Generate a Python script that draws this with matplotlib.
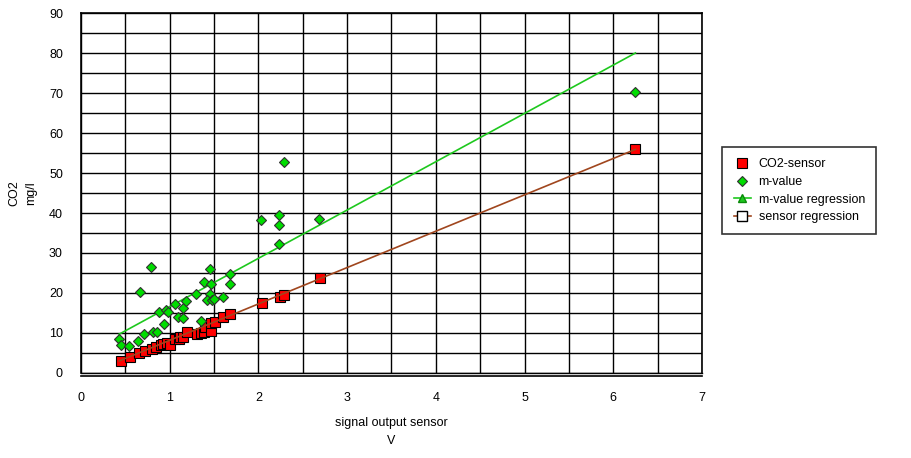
import matplotlib
matplotlib.use("Agg")
import matplotlib.pyplot as plt
from matplotlib.lines import Line2D

plt.rcParams['font.family'] = ['Liberation Sans', 'DejaVu Sans']

# CO2-sensor points (signal V, CO2 mg/l)
sensor_x = [0.45, 0.55, 0.65, 0.72, 0.80, 0.85, 0.90, 0.93, 0.97, 1.00,
            1.06, 1.10, 1.12, 1.15, 1.19, 1.31, 1.35, 1.39, 1.40, 1.46,
            1.47, 1.51, 1.60, 1.68, 2.04, 2.24, 2.29, 2.69, 6.25]
sensor_y = [3.0, 4.1, 4.9, 5.5, 6.1, 6.6, 6.9, 7.2, 7.4, 7.0,
            8.6, 8.5, 8.9, 9.1, 10.2, 9.7, 10.0, 10.3, 11.4, 10.6,
            12.5, 12.8, 14.0, 14.8, 17.6, 18.9, 19.5, 23.7, 56.1]

# m-value points
mval_x = [0.43, 0.45, 0.545, 0.64, 0.67, 0.71, 0.79, 0.815, 0.86, 0.88,
          0.94, 0.96, 0.985, 1.06, 1.09, 1.145, 1.155, 1.18, 1.30, 1.355,
          1.385, 1.45, 1.46, 1.45, 1.42, 1.48, 1.50, 1.60, 1.68, 1.68,
          2.03, 2.23, 2.23, 2.235, 2.29, 2.68, 6.25]
mval_y = [8.4, 7.1, 6.7, 8.1, 20.2, 9.75, 26.6, 10.2, 10.2, 15.3,
          12.3, 15.8, 15.3, 17.2, 14.1, 16.3, 13.8, 18.1, 19.7, 12.9,
          22.7, 26.0, 22.2, 19.7, 18.3, 18.3, 18.6, 18.9, 24.8, 22.3,
          38.2, 39.4, 36.9, 32.2, 52.8, 38.5, 70.2]

# regression lines, end points
reg_x = [0.43, 6.25]
mval_reg_y = [9.7, 80.0]
sensor_reg_y = [3.0, 55.9]

fig = plt.figure(figsize=(9.12, 4.58), dpi=100)
ax = fig.add_axes([0.0888, 0.1856, 0.6809, 0.786])

ax.plot(sensor_x, sensor_y, 's', color='#FF0000', mec='black', mew=0.8, ms=7.5, zorder=3)
ax.plot(reg_x, sensor_reg_y, '-', color='#A0461E', lw=1.2, zorder=4)
ax.plot(reg_x, mval_reg_y, '-', color='#1EC81E', lw=1.2, zorder=4)
ax.plot(mval_x, mval_y, 'D', color='#00DD00', mec='#303030', mew=0.8, ms=5, zorder=5)

ax.set_xlim(0, 7)
ax.set_ylim(0, 90)
ax.set_xticks(range(0, 8))
ax.set_yticks(range(0, 91, 10))
ax.set_xticks([i * 0.5 for i in range(15)], minor=True)
ax.set_yticks(range(0, 91, 5), minor=True)
ax.grid(True, which='both', color='black', lw=1)
ax.set_axisbelow(True)
ax.tick_params(which='both', length=0)
ax.tick_params(axis='x', pad=12, labelsize=9)
ax.tick_params(axis='y', pad=13, labelsize=9)
for s in ax.spines.values():
    s.set_linewidth(1.2)
ax.spines['bottom'].set_position(('outward', 2))
ax.axhline(0, color='black', lw=1, clip_on=False)

ax.set_xlabel('signal output sensor\nV', fontsize=9, labelpad=9, linespacing=1.7)
ax.set_ylabel('CO2\nmg/l', fontsize=9, linespacing=1.5)
ax.yaxis.set_label_coords(-0.071, 0.5)

handles = [
    Line2D([], [], ls='none', marker='s', color='#FF0000', mec='black', mew=0.8, ms=7),
    Line2D([], [], ls='none', marker='D', color='#00DD00', mec='#303030', mew=0.8, ms=5),
    Line2D([], [], color='#1EC81E', lw=1.2, marker='^', mfc='#1EC81E', mec='#0a8a0a', ms=6),
    Line2D([], [], color='#A0461E', lw=1.2, marker='s', mfc='white', mec='black', ms=7),
]
labels = ['CO2-sensor', 'm-value', 'm-value regression', 'sensor regression']
leg = fig.legend(handles, labels, loc='upper left', bbox_to_anchor=(0.792, 0.679),
                 borderaxespad=0, frameon=True, fancybox=False, fontsize=9,
                 handlelength=1.4, handletextpad=0.6, borderpad=0.9, labelspacing=0.45)
leg.get_frame().set_edgecolor('black')
leg.get_frame().set_linewidth(1.2)

fig.savefig('out.png', dpi=100)
